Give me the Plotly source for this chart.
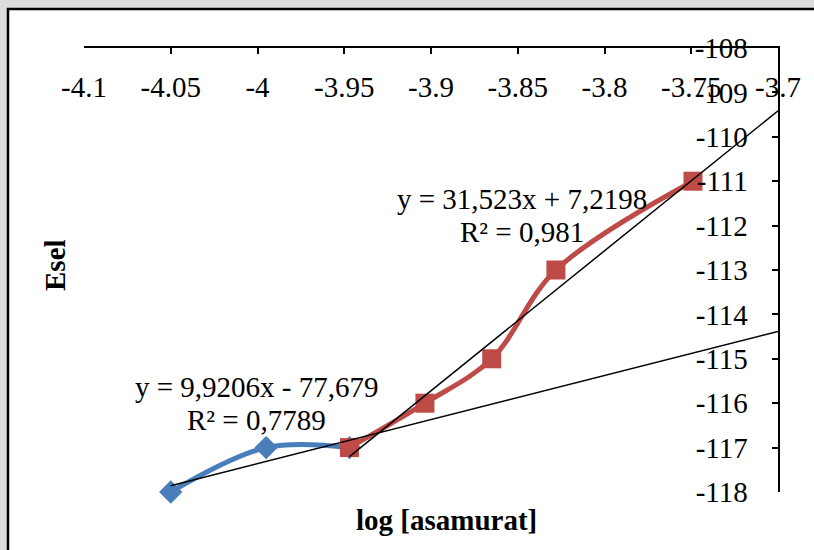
import plotly.graph_objects as go

# ---- data ----
x_blue = [-4.05, -3.995, -3.947]
y_blue = [-118, -117, -117]

x_red = [-3.947, -3.9035, -3.865, -3.828, -3.749]
y_red = [-117, -116, -115, -113, -111]

# trendline coefficients as printed on the chart
trend_blue = {"slope": 9.9206, "intercept": -77.679, "x": [-4.05, -3.7]}
trend_red = {"slope": 31.523, "intercept": 7.2198, "x": [-3.947, -3.7]}

eq_blue = ["y = 9,9206x - 77,679", "R² = 0,7789"]
eq_red = ["y = 31,523x + 7,2198", "R² = 0,981"]

x_ticks = [-4.1, -4.05, -4.0, -3.95, -3.9, -3.85, -3.8, -3.75, -3.7]
x_ticklabels = ["-4.1", "-4.05", "-4", "-3.95", "-3.9", "-3.85", "-3.8", "-3.75", "-3.7"]
y_ticks = list(range(-118, -107))
y_ticklabels = [str(v) for v in y_ticks]

W, H = 814, 550
L, R, T, B = 84, 36, 48, 58
PW, PH = W - L - R, H - T - B


def px(x):
    return (x - L) / PW


def py(y):
    return 1 - (y - T) / PH


FONT = "Liberation Serif, Times New Roman, serif"
BLUE = "#4a7ebb"
RED = "#be4b48"

fig = go.Figure()

fig.add_trace(go.Scatter(
    x=x_blue, y=y_blue, mode="lines+markers",
    line=dict(color=BLUE, width=5, shape="spline", smoothing=1.0),
    marker=dict(symbol="diamond", size=18, color=BLUE),
    cliponaxis=False, showlegend=False, hoverinfo="skip"))

fig.add_trace(go.Scatter(
    x=x_red, y=y_red, mode="lines+markers",
    line=dict(color=RED, width=5, shape="spline", smoothing=1.0),
    marker=dict(symbol="square", size=19, color=RED),
    cliponaxis=False, showlegend=False, hoverinfo="skip"))

for tr in (trend_blue, trend_red):
    xs = tr["x"]
    ys = [tr["slope"] * v + tr["intercept"] for v in xs]
    fig.add_trace(go.Scatter(
        x=xs, y=ys, mode="lines",
        line=dict(color="black", width=1.5),
        cliponaxis=False, showlegend=False, hoverinfo="skip"))

annotations = []
# trendline equations
for (txt, xx, yy) in [
    (eq_blue[0], -4.0005, -115.63), (eq_blue[1], -4.0005, -116.38),
    (eq_red[0], -3.8473, -111.40), (eq_red[1], -3.8473, -112.14),
]:
    annotations.append(dict(x=xx, y=yy, xref="x", yref="y", text=txt,
                            showarrow=False, xanchor="center", yanchor="middle",
                            font=dict(family=FONT, size=29, color="black")))
# axis titles
annotations.append(dict(x=px(446), y=py(520), xref="paper", yref="paper",
                        text="<b>log [asamurat]</b>", showarrow=False,
                        xanchor="center", yanchor="middle",
                        font=dict(family=FONT, size=29, color="black")))
annotations.append(dict(x=px(55), y=py(265), xref="paper", yref="paper",
                        text="<b>Esel</b>", showarrow=False, textangle=-90,
                        xanchor="center", yanchor="middle",
                        font=dict(family=FONT, size=29, color="black")))

shapes = [dict(type="rect", xref="paper", yref="paper",
               x0=px(8), x1=px(840), y0=py(580), y1=py(9),
               fillcolor="white", line=dict(color="black", width=2.5),
               layer="below")]

fig.update_layout(
    width=W, height=H,
    margin=dict(l=L, r=R, t=T, b=B, pad=0),
    paper_bgcolor="#dcdcdc",
    plot_bgcolor="rgba(0,0,0,0)",
    annotations=annotations,
    shapes=shapes,
    xaxis=dict(
        range=[-4.1, -3.7], side="top", tickmode="array",
        tickvals=x_ticks, ticktext=x_ticklabels,
        ticks="inside", ticklen=6, tickwidth=2, tickcolor="black",
        ticklabelposition="inside", ticklabelstandoff=26,
        ticklabeloverflow="allow",
        showline=True, linecolor="black", linewidth=2, mirror=False,
        showgrid=False, zeroline=False,
        tickfont=dict(family=FONT, size=29, color="black"),
    ),
    yaxis=dict(
        range=[-118, -108], side="right", tickmode="array",
        tickvals=y_ticks, ticktext=y_ticklabels,
        ticks="inside", ticklen=6, tickwidth=2, tickcolor="black",
        ticklabelposition="inside", ticklabelstandoff=27,
        ticklabeloverflow="allow",
        showline=True, linecolor="black", linewidth=2, mirror=False,
        showgrid=False, zeroline=False,
        tickfont=dict(family=FONT, size=29, color="black"),
    ),
)

fig.write_html("out.html", config={"displayModeBar": False},
               post_script="document.body.style.margin='0';document.body.style.overflow='hidden';")
